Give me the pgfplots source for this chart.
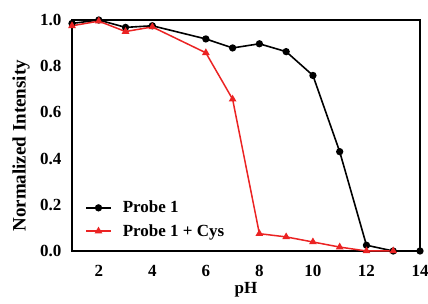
\documentclass[border=0pt]{standalone}
\usepackage{pgfplots}
\pgfplotsset{compat=1.18}
\usepackage{fontspec}
\setmainfont{Liberation Serif}
\definecolor{myred}{RGB}{235,35,35}
\begin{document}
\begin{tikzpicture}[x=1pt,y=1pt]
\begin{axis}[
  at={(0,0)}, anchor=south west,
  scale only axis,
  width=348pt, height=231pt,
  xmin=1, xmax=14, ymin=0, ymax=1.0,
  xtick={2,4,6,8,10,12,14},
  ytick={0,0.2,0.4,0.6,0.8,1.0},
  yticklabel style={/pgf/number format/fixed, /pgf/number format/fixed zerofill, /pgf/number format/precision=1},
  /pgf/number format/assume math mode=true,
  major tick length=0pt,
  tick label style={font=\bfseries\fontsize{17}{20}\selectfont},
  yticklabel style={anchor=east, xshift=-7pt},
  xticklabel style={anchor=center, yshift=-20pt},
  xlabel={pH}, ylabel={Normalized Intensity},
  xlabel style={font=\bfseries\fontsize{17}{20}\selectfont, at={(axis description cs:0.5,0)}, anchor=center, yshift=-39pt},
  ylabel style={font=\bfseries\fontsize{19}{20}\selectfont, at={(axis description cs:0,0.455)}, anchor=center, yshift=51pt},
  axis line style={line width=1.6pt},
  legend image code/.code={
    \draw[mark repeat=2,mark phase=2,#1] plot coordinates {(0pt,0pt) (12.5pt,0pt) (25pt,0pt)};},
  legend style={draw=none, fill=none, at={(13pt,52pt)}, anchor=north west, inner sep=0pt,
    font=\bfseries\fontsize{17}{20}\selectfont, row sep=6pt, column sep=9pt},
  legend cell align=left,
  clip=false,
]
\addplot[black, line width=1.6pt, mark=*, mark size=2.8pt] coordinates {
(1,0.985) (2,1.0) (3,0.968) (4,0.975) (6,0.918) (7,0.879) (8,0.897) (9,0.863) (10,0.76) (11,0.43) (12,0.025) (13,0.0) (14,0.0)};
\addlegendentry{Probe 1}
\addplot[color=myred, line width=1.5pt, mark=triangle*, mark size=3pt] coordinates {
(1,0.975) (2,0.995) (3,0.95) (4,0.97) (6,0.858) (7,0.657) (8,0.075) (9,0.061) (10,0.039) (11,0.017) (12,0.0) (13,0.0)};
\addlegendentry{Probe 1 + Cys}
\end{axis}
\pgfresetboundingbox
\useasboundingbox (-72,-53) rectangle (356,251);
\end{tikzpicture}
\end{document}
